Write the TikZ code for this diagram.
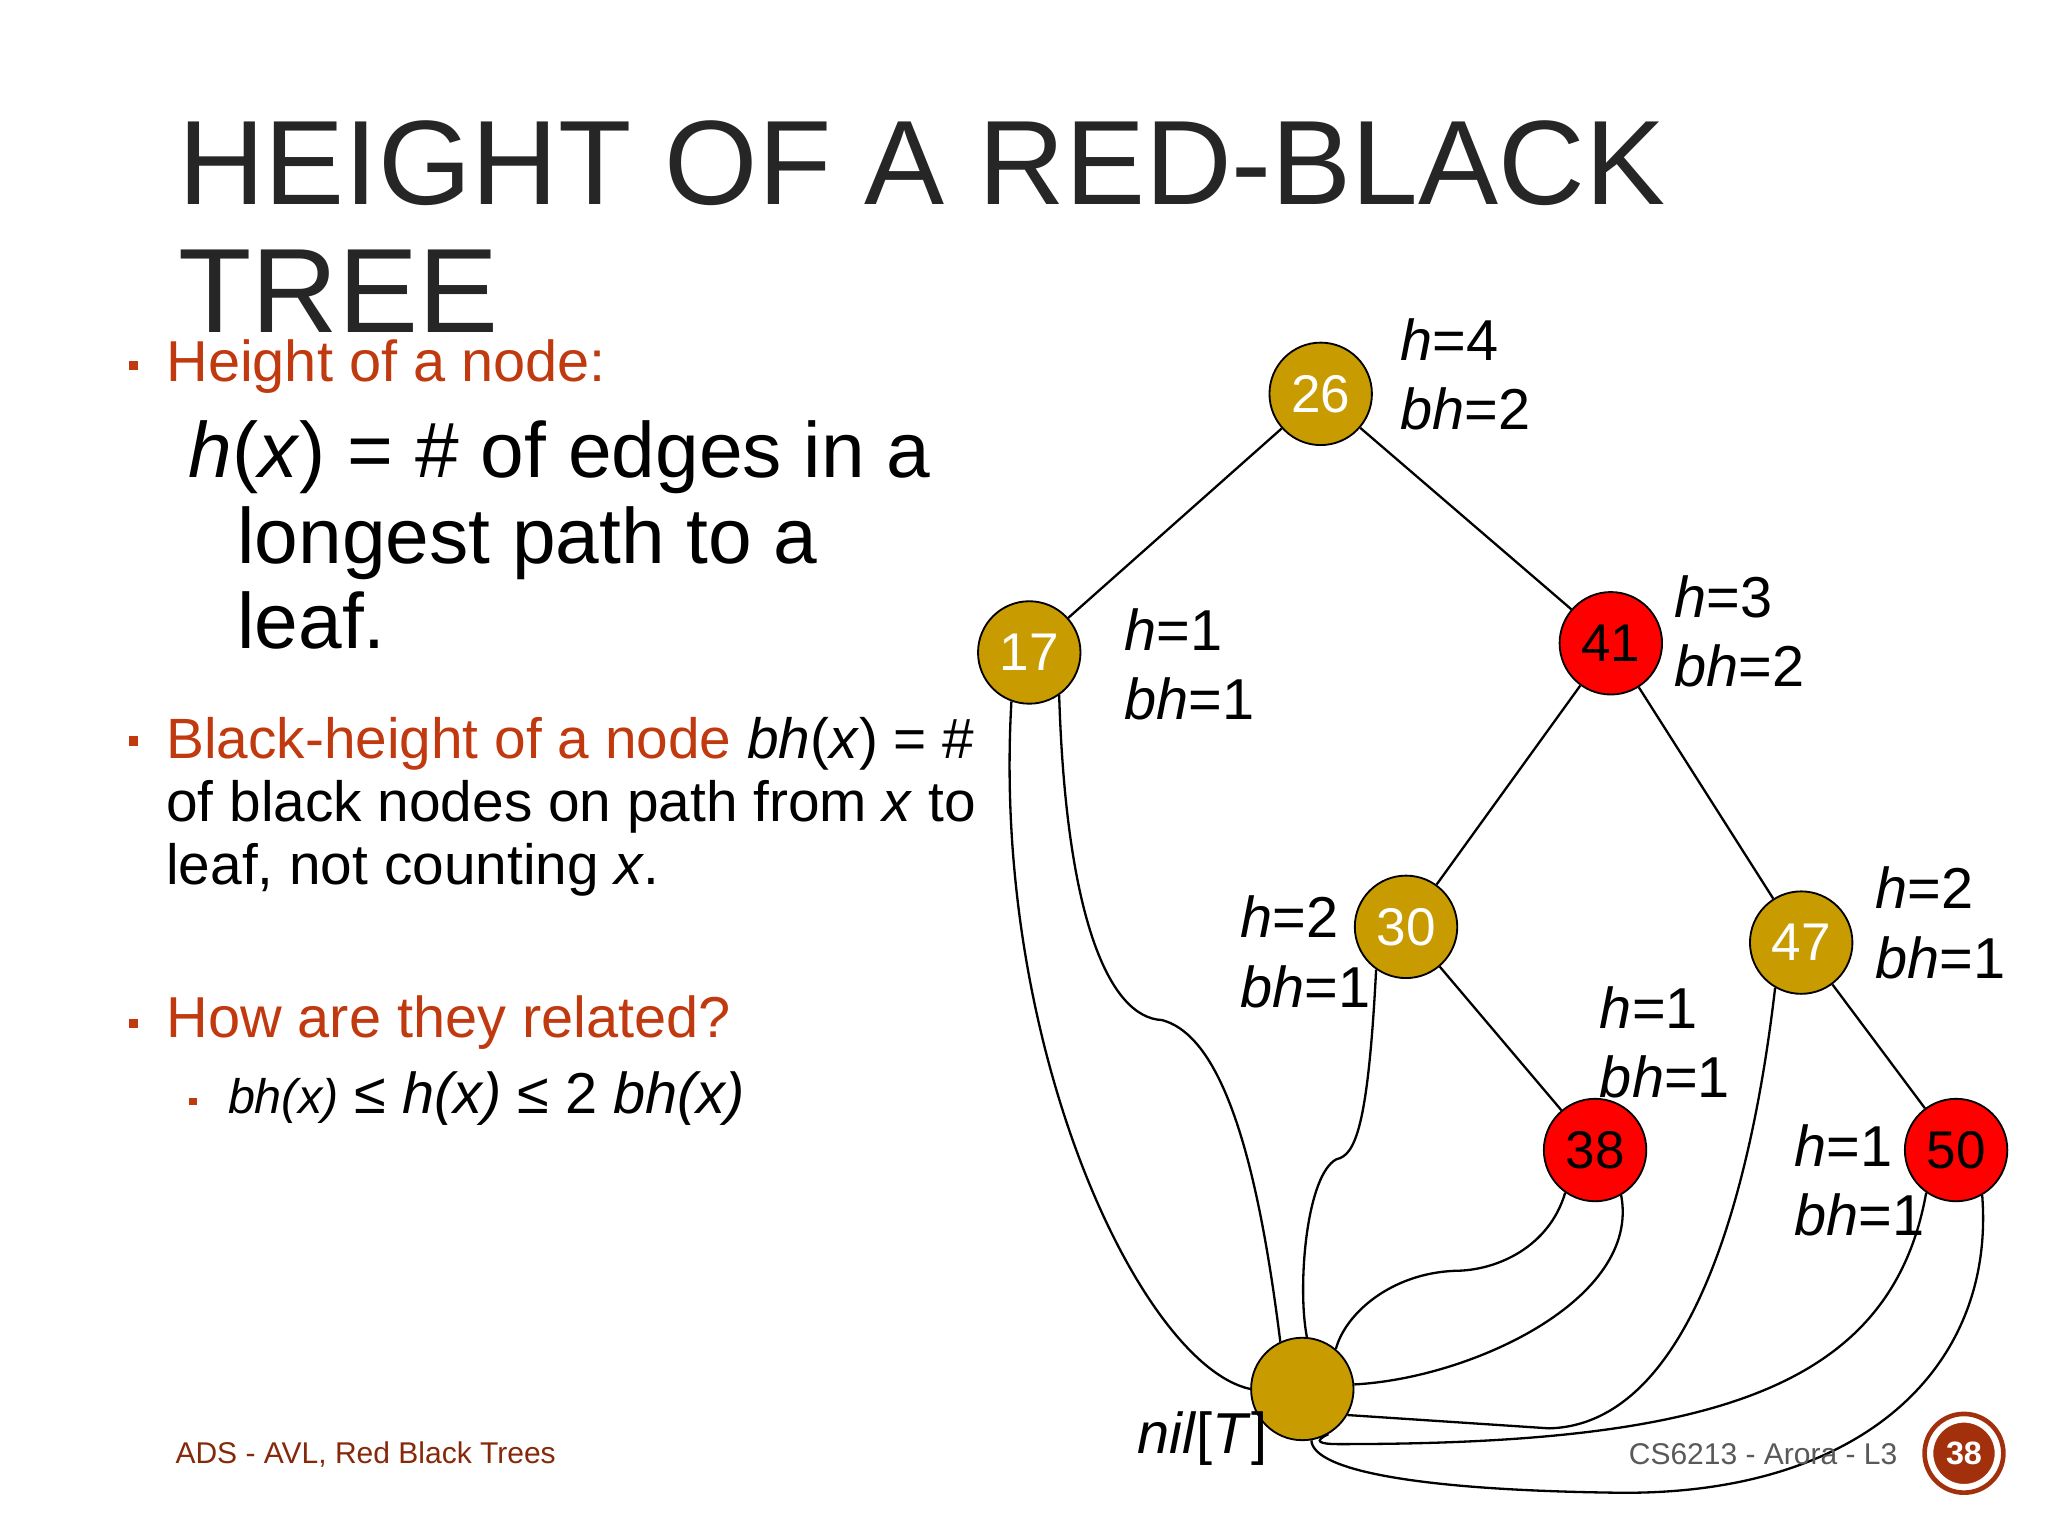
\documentclass[tikz,border=0pt]{standalone}
\usepackage{fontspec}
\setmainfont{Liberation Sans}
\begin{document}
\begin{tikzpicture}[x=0.01cm,y=-0.01cm,
  gold/.style={circle,draw=black,fill=gnode,minimum size=0.78cm,inner sep=0pt,text=white,font=\fontsize{11.5}{12}\selectfont},
  rn/.style={gold,fill=red,text=black},
  lab/.style={align=left,anchor=west,font=\fontsize{12.5}{15}\selectfont,inner sep=0pt},
  edge/.style={line width=0.5pt}]
\definecolor{gnode}{HTML}{C89B00}
\definecolor{btxt}{HTML}{C0390F}
\useasboundingbox (0,0) rectangle (1560,1170);
\fill[white] (0,0) rectangle (1560,1170);
% title
\node[anchor=west,inner sep=0pt,font=\fontsize{26}{30}\selectfont,text=black!85] (t1) at (135,124) {HEIGHT OF A RED-BLACK};
\node[anchor=west,inner sep=0pt,font=\fontsize{26}{30}\selectfont,text=black!85] (t2) at (135,222) {TREE};
% bullets
\node[anchor=west,inner sep=0pt,text=btxt,font=\fontsize{12.5}{15}\selectfont] (b1) at (126,279) {Height of a node:};
\fill[btxt] (98,275) rectangle (105,282);
\node[anchor=north west,inner sep=0pt,align=left,font=\fontsize{17}{18.5}\selectfont] (d1) at (143,320) {\textit{h}(\textit{x}) = \# of edges in a\\\hspace*{0.62em}longest path to a\\\hspace*{0.62em}leaf.};
\node[anchor=north west,inner sep=0pt,align=left,font=\fontsize{12.3}{13.6}\selectfont] (b2) at (126,546) {\textcolor{btxt}{Black-height of a node} \textit{bh}(\textit{x}) = \#\\of black nodes on path from \textit{x} to\\leaf, not counting \textit{x}.};
\fill[btxt] (98,561) rectangle (105,568);
\node[anchor=west,inner sep=0pt,text=btxt,font=\fontsize{12.5}{15}\selectfont] (b3) at (126,779) {How are they related?};
\fill[btxt] (98,776) rectangle (105,783);
\fill[btxt] (144,836) rectangle (150,842);
\node[anchor=west,inner sep=0pt,font=\fontsize{12.5}{15}\selectfont] (b4) at (173,837) {{\fontsize{10.5}{12}\selectfont\textit{bh(x)}} ≤ \textit{h(x)} ≤ 2 \textit{bh(x)}};
% tree nodes
\node[gold] (n26) at (1006,300) {26};
\node[gold] (n17) at (784,497) {17};
\node[rn] (n41) at (1227,490) {41};
\node[gold] (n30) at (1071,706) {30};
\node[gold] (n47) at (1372,718) {47};
\node[rn] (n38) at (1215,876) {38};
\node[rn] (n50) at (1490,876) {50};
\node[gold] (nil) at (992,1058) {};
% edges
\draw[edge] (n26) -- (n17);
\draw[edge] (n26) -- (n41);
\draw[edge] (n41) -- (n30);
\draw[edge] (n41) -- (n47);
\draw[edge] (n30) -- (n38);
\draw[edge] (n47) -- (n50);
% nil links
\draw[edge] (n17.250) .. controls (755,800) and (870,1040) .. (nil.west);
\draw[edge] (n17.305) .. controls (812,700) and (845,775) .. (885,777) .. controls (935,790) and (960,900) .. (nil.115);
\draw[edge] (n30.235) .. controls (1042,860) and (1032,880) .. (1018,883) .. controls (995,895) and (988,980) .. (nil.85);
\draw[edge] (n38.235) .. controls (1180,950) and (1140,968) .. (1108,968) .. controls (1060,970) and (1025,1000) .. (nil.50);
\draw[edge] (n38.300) .. controls (1250,990) and (1120,1050) .. (nil.5);
\draw[edge] (n47.240) .. controls (1335,900) and (1290,1085) .. (1180,1088) -- (nil.330);
\draw[edge] (n50.235) .. controls (1440,1060) and (1300,1100) .. (1020,1100) .. controls (1005,1100) and (1000,1098) .. (nil.300);
\draw[edge] (n50.300) .. controls (1520,1040) and (1420,1140) .. (1230,1137) .. controls (1080,1135) and (1000,1120) .. (nil.280);
% labels
\node[lab] (l26) at (1066,285) {\textit{h}=4\\\textit{bh}=2};
\node[lab] (l17) at (856,506) {\textit{h}=1\\\textit{bh}=1};
\node[lab] (l41) at (1275,481) {\textit{h}=3\\\textit{bh}=2};
\node[lab] (l30) at (944,725) {\textit{h}=2\\\textit{bh}=1};
\node[lab] (l47) at (1428,703) {\textit{h}=2\\\textit{bh}=1};
\node[lab] (l38) at (1218,794) {\textit{h}=1\\\textit{bh}=1};
\node[lab] (l50) at (1366,899) {\textit{h}=1\\\textit{bh}=1};
\node[lab] (lnil) at (866,1096) {\textit{nil}[\textit{T}]};
% footer
\node[anchor=west,inner sep=0pt,text=btxt!70!black,font=\fontsize{6.5}{8}\selectfont] (f1) at (133,1108) {ADS - AVL, Red Black Trees};
\node[anchor=west,inner sep=0pt,text=black!65,font=\fontsize{6.5}{8}\selectfont] (f2) at (1240,1108) {CS6213 - Arora - L3};
\node[circle,fill=btxt!85!black,draw=white,line width=1.5pt,minimum size=0.52cm,inner sep=0pt,text=white,font=\bfseries\fontsize{7}{9}\selectfont] (pg) at (1496,1107) {38};
\draw[btxt!85!black,line width=1pt] (pg.center) circle (30);
\end{tikzpicture}
\end{document}
